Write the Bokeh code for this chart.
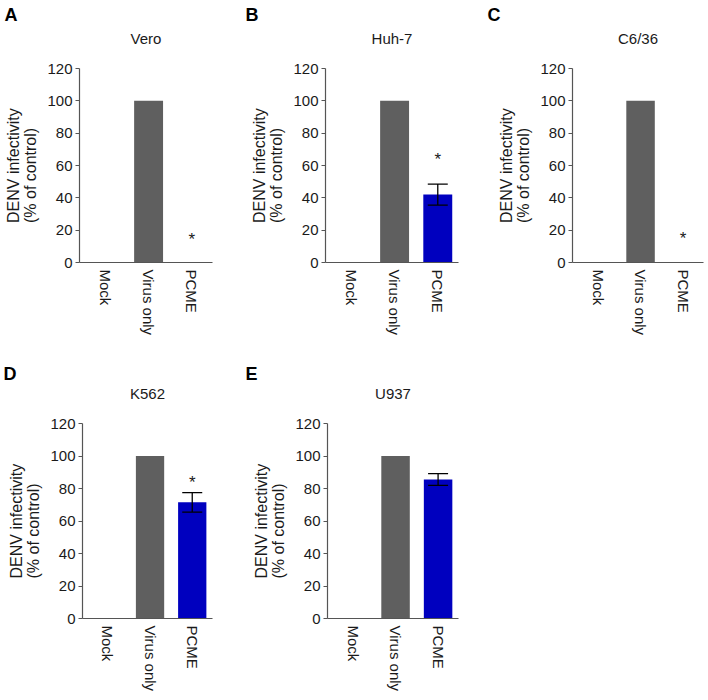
from bokeh.plotting import figure
from bokeh.layouts import row, column
from bokeh.models import Range1d, FixedTicker, Whisker, TeeHead, ColumnDataSource, Title
from bokeh.core.properties import value
from bokeh.embed import file_html
from bokeh.resources import INLINE

# ---------------- data ----------------
categories = ["Mock", "Virus only", "PCME"]
panel_letters = ["A", "B", "C", "D", "E"]
cell_lines = ["Vero", "Huh-7", "C6/36", "K562", "U937"]
mock = [0, 0, 0, 0, 0]
virus_only = [100, 100, 100, 100, 100]
pcme = [0, 42, 0, 71.5, 85.5]
pcme_err = [0, 6.5, 0, 6.0, 3.6]
sig_star_y = [14, 64, 15, 84, None]      # position of "*" marker (None = no marker)
y_ticks = [0, 20, 40, 60, 80, 100, 120]
y_max = 120
y_label = "DENV infectivity\n(% of control)"

# ---------------- style ----------------
FONT = "Liberation Sans"
GRAY = "#5f5f5f"
BLUE = "#0000bf"
AXIS = "#555555"
TEXT = "#1a1a1a"
bar_colors = [GRAY, GRAY, BLUE]
X_START, X_END = -0.6, 2.48
YLABEL_PX = 16
YLABEL_HALF_LEN = 57.5          # shift (px) from the axis centre to the start of the y label

# row geometry in canvas pixels: frame top, pixel of y=120, frame bottom, title centre
rows_geom = [
    dict(h=340, top=24, y120=68, bottom=262, title=38),
    dict(h=358, top=43, y120=83, bottom=278, title=53),
]
# per-panel: row index, width, left border, right border
panel_geom = [
    dict(r=0, w=242, bl=78, br=30),
    dict(r=0, w=242, bl=83, br=26),
    dict(r=0, w=222, bl=88, br=3),
    dict(r=1, w=242, bl=82, br=30),
    dict(r=1, w=246, bl=85, br=30),
]


def make_panel(i):
    g = panel_geom[i]
    rg = rows_geom[g["r"]]
    ppu = (rg["bottom"] - rg["y120"]) / y_max          # pixels per unit
    y_top = (rg["bottom"] - rg["top"]) / ppu             # frame extends above 120 for the title
    title_y = (rg["bottom"] - rg["title"]) / ppu

    p = figure(width=g["w"], height=rg["h"], output_backend="svg", toolbar_location=None,
               x_range=Range1d(X_START, X_END), y_range=Range1d(0, y_top),
               min_border_left=g["bl"], min_border_right=g["br"],
               min_border_top=rg["top"], min_border_bottom=rg["h"] - rg["bottom"])
    p.outline_line_color = None
    p.grid.visible = False
    p.background_fill_color = "white"
    p.border_fill_color = "white"

    xs = list(range(len(categories)))
    tops = [mock[i], virus_only[i], pcme[i]]
    src = ColumnDataSource(dict(x=xs, top=tops, color=bar_colors))
    p.vbar(x="x", top="top", width=0.67, bottom=0, fill_color="color", line_color=None, source=src)

    if pcme_err[i] > 0:
        esrc = ColumnDataSource(dict(x=[2], upper=[pcme[i] + pcme_err[i]], lower=[pcme[i] - pcme_err[i]]))
        w = Whisker(base="x", upper="upper", lower="lower", source=esrc, dimension="height",
                    line_color="black", line_width=1.3, level="overlay",
                    upper_head=TeeHead(size=20, line_color="black", line_width=1.3),
                    lower_head=TeeHead(size=20, line_color="black", line_width=1.3))
        p.add_layout(w)

    if sig_star_y[i] is not None:
        p.text(x=[2], y=[sig_star_y[i]], text=["*"], text_font=value(FONT), text_font_size="17px",
               text_align="center", text_baseline="middle", text_color=TEXT)

    # cell-line title, centred over the plotting area
    p.text(x=[(X_START + X_END) / 2], y=[title_y], text=[cell_lines[i]], text_font=value(FONT),
           text_font_size="15px", text_align="center", text_baseline="middle", text_color=TEXT)

    ya = p.yaxis[0]
    ya.ticker = FixedTicker(ticks=y_ticks)
    ya.bounds = (0, y_max)
    ya.major_label_text_font = FONT
    ya.major_label_text_font_size = "15px"
    ya.major_label_text_color = TEXT
    ya.major_label_standoff = 3
    ya.major_tick_in = 0
    ya.major_tick_out = 4
    ya.minor_tick_line_color = None
    ya.axis_line_color = AXIS
    ya.major_tick_line_color = AXIS
    ya.axis_line_width = 1.2

    # y-axis title, centred on the 0-120 part of the axis
    ytitle = Title(text=y_label, align="left", vertical_align="top",
                   offset=ppu * y_max / 2 - YLABEL_HALF_LEN, standoff=8,
                   text_font=FONT, text_font_size=f"{YLABEL_PX}px", text_font_style="normal",
                   text_color=TEXT, text_line_height=1.0)
    p.add_layout(ytitle, "left")

    xa = p.xaxis[0]
    xa.ticker = FixedTicker(ticks=xs)
    xa.major_label_overrides = {k: c for k, c in zip(xs, categories)}
    xa.major_label_orientation = "vertical"
    xa.major_label_text_font = FONT
    xa.major_label_text_font_size = "15px"
    xa.major_label_text_color = TEXT
    xa.major_label_standoff = 1
    xa.major_tick_line_color = None
    xa.minor_tick_line_color = None
    xa.axis_line_color = AXIS
    xa.axis_line_width = 1.2

    # panel letter at the top-left corner of the panel
    letter = Title(text=panel_letters[i], align="left", offset=-(g["bl"] - 3), standoff=0,
                   text_font=FONT, text_font_size="18px", text_font_style="bold", text_color="black")
    p.add_layout(letter, "above")
    return p


panels = [make_panel(i) for i in range(5)]
layout = column(row(panels[0], panels[1], panels[2]), row(panels[3], panels[4]))

open("out.html", "w").write(file_html(layout, INLINE))
